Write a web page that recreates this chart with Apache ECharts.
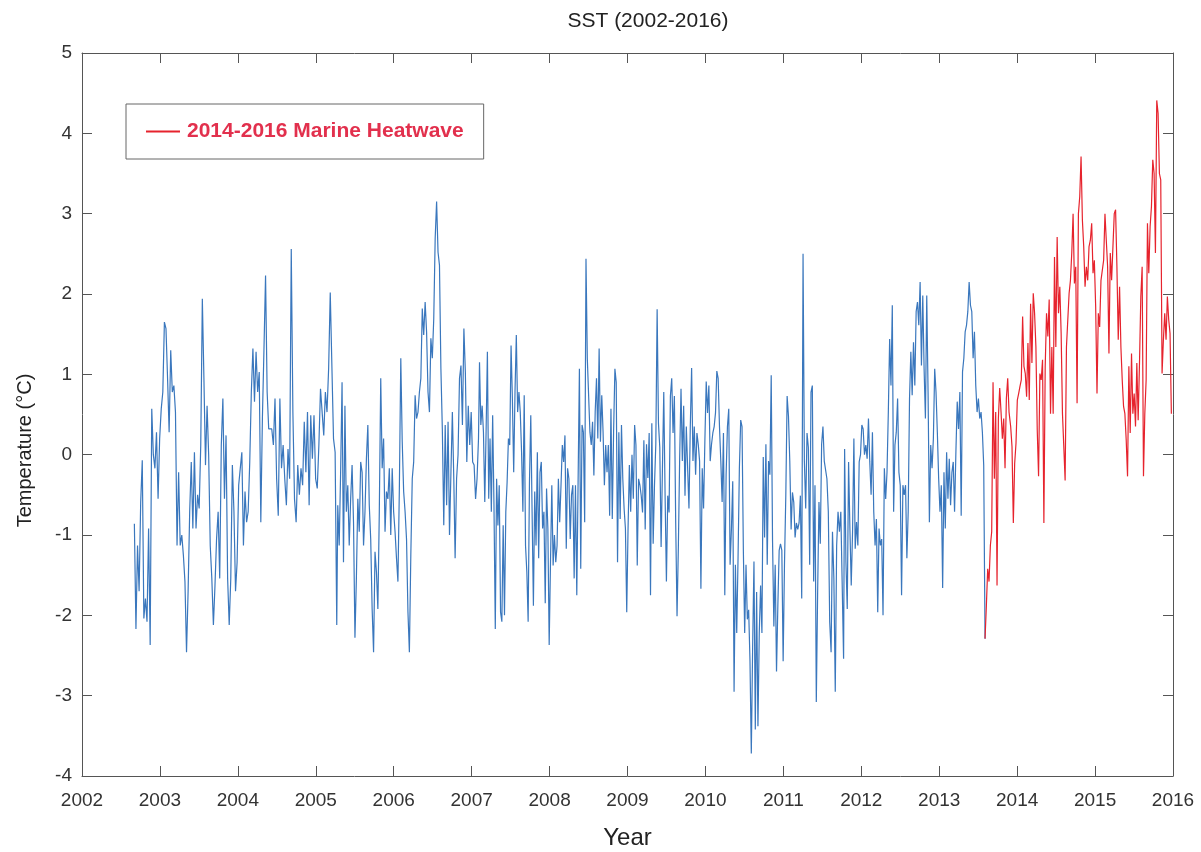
<!DOCTYPE html>
<html><head><meta charset="utf-8">
<script src="https://cdn.jsdelivr.net/npm/echarts@6/dist/echarts.min.js"></script>
<style>html,body{margin:0;padding:0;background:#fff}#c{width:1201px;height:852px}</style>
</head><body><div id="c"></div>
<script>
// Axis ticks
const yearTicks = [2002,2003,2004,2005,2006,2007,2008,2009,2010,2011,2012,2013,2014,2015,2016];
const tempTicks = [-4,-3,-2,-1,0,1,2,3,4,5];

// Sampled SST anomaly (°C), segments of evenly spaced samples between [startYear, endYear]
const blueSpanA = [2002.672, 2004.396];
const blueA = [-0.86,-2.17,-1.13,-1.7,-0.59,-0.07,-2.04,-1.79,-2.08,-0.92,-2.37,0.57,0,-0.17,0.28,-0.55,0.2,0.57,0.78,1.65,1.57,0.95,0.28,1.3,0.78,0.86,0.53,-1.13,-0.22,-1.13,-1.0,-1.25,-1.58,-2.46,-1.7,-0.71,-0.09,-0.92,0.03,-0.92,-0.5,-0.67,0.12,1.94,0.95,-0.13,0.61,0,-1.13,-1.54,-2.12,-1.63,-1.05,-0.71,-1.54,0.12,0.7,-0.55,0.24,-1.54,-2.12,-1.54,-0.13,-0.71,-1.7,-1.34,-0.38,-0.17,0.03,-1.13,-0.46,-0.84,-0.71,-0.09,0.78,1.32,0.66,1.28,0.78,1.03,-0.84,0.45,1.32,2.23,0.78,0.32];

const blueSpanB1 = [2004.435, 2005.269];
const blueB1 = [0.32,0.12,0.7,-0.3,-0.76,0.7,-0.17,0.12,-0.3,-0.63,0.07,-0.3,2.56,0.53,-0.55,-0.84,-0.13,-0.5,-0.17,-0.38,0.41,-0.22,0.53,-0.63,0.49,-0.05,0.49,-0.3,-0.42,0.12,0.82,0.53,0.24,0.78,0.53,1.07,2.02,1.11,0.2,0.03,-2.12];

const blueSpanB2 = [2005.282, 2006.771];
const blueB2 = [-0.63,-1.13,-0.22,0.9,-1.34,0.61,-0.71,-0.38,-1.13,-0.55,-0.13,-0.84,-2.28,-1.54,-0.55,-0.96,-0.09,-0.22,-1.13,-0.71,-0.05,0.37,-0.63,-1.05,-1.92,-2.46,-1.21,-1.46,-1.92,-0.71,0.95,-0.17,0.2,-0.96,-0.46,-0.55,-0.17,-1.0,-0.17,-0.71,-0.96,-1.29,-1.58,-0.42,1.2,0.16,-0.46,-0.71,-1.05,-1.96,-2.46,-1.25,-0.3,-0.09,0.74,0.45,0.53,0.78,0.95,1.82,1.49,1.9,1.53,0.78,0.53,1.45,1.2,1.69,2.69,3.15,2.52,2.36,1.07,0.32,-0.88,0.37,-0.63,0.41,-1.0,-0.22,0.53,-0.3];

const blueSpanC1 = [2006.788, 2007.088];
const blueC1 = [-1.29,-0.3,0,0.95,1.11,0.37,1.57,1.03,-0.09,0.61,0.12,0.53,-0.09,-0.13,-0.55,-0.3,0.2];

const blueSpanC2 = [2007.101, 2009.142];
const blueC2 = [1.15,0.37,0.61,0.28,-0.59,0.28,1.28,-0.55,0.2,-0.71,0.49,-0.63,-2.17,-0.3,-0.88,-0.38,-1.96,-2.08,-0.88,-2.0,-0.71,-0.34,0.2,0.12,1.36,0.7,-0.22,0.78,1.49,0.53,0.78,0.53,0.03,-0.71,0.74,-1.13,-1.46,-2.08,-0.34,0.49,-0.71,-1.88,-0.46,-1.13,0.03,-1.29,-0.22,-0.09,-0.92,-0.71,-1.85,-0.42,-0.92,-2.37,-1.34,-0.38,-1.38,-1.0,-1.34,-1.13,-0.3,-0.84,-0.38,0.12,-0.09,0.24,-1.17,-0.17,-0.3,-1.05,-0.5,-0.38,-1.54,-0.38,-1.75,-0.34,1.07,-1.42,0.37,0.28,-0.84,2.44,1.2,1.2,0.28,0.12,0.41,-0.26,0.53,0.95,0.2,1.32,0.16,0.74,0.28,-0.38,0.12,-0.22,0.12,-0.76,0.57,-0.8,0.28,1.07,0.9,-1.34,0.28,-0.8,0.37,-0.3,-0.67,-0.92,-1.96,-0.92,-0.13,-0.71,0,-0.55,0.37,0.12,-1.38,-0.3];

const blueSpanD = [2009.159, 2011.525];
const blueD = [-0.38,-0.51,-0.72,0.18,-0.93,0.13,-0.29,0.27,-1.75,0.39,-1.11,-0.38,0.13,1.81,0.39,0.09,-1.15,-0.17,0.78,-0.51,-1.58,-0.51,-0.72,0.73,0.95,0.27,0.73,-0.85,-2.01,-1.15,-0.03,0.82,-0.08,0.61,-0.51,0.35,-0.17,-0.67,0.35,1.08,-0.08,0.35,-0.25,0.27,0.13,-0.08,-1.67,-0.17,-0.67,0.18,0.91,0.52,0.86,-0.08,0.13,0.27,0.35,0.52,1.04,0.95,0.35,-0.08,-0.59,0.27,-1.75,-0.25,0.35,0.57,-1.37,-0.93,-0.33,-2.95,-1.37,-2.22,-1.28,-0.17,0.43,0.35,-1.19,-2.22,-1.37,-2.05,-1.93,-2.57,-3.72,-2.39,-1.33,-3.42,-1.71,-3.38,-2.22,-1.63,-2.22,-0.03,-1.03,0.13,-1.37,-0.08,-0.25,0.99,-1.07,-2.14,-1.37,-2.7,-1.88,-1.19,-1.11,-1.19,-2.57,-1.37,-0.51,0.73,0.48,-0.08,-0.93,-0.47,-0.59,-1.03,-0.85,-0.93,-0.85,-0.51,-1.79,2.5,-0.08,-0.67,0.27,0.09,-1.37,0.78,0.86,-1.58,-0.38,-3.08,-1.71,-0.59,-1.11,0.13,0.35,-0.08];

const blueSpanE1 = [2011.559, 2011.773];
const blueE1 = [-0.3,-0.71,-2.08,-2.46,-0.96,-1.54,-2.95,-1.13,-0.71,-0.96,-0.71,-0.71,-2.54];

const blueSpanE2 = [2011.786, 2013.588];
const blueE2 = [0.07,-1.34,-1.92,-0.09,-0.92,-1.63,-0.96,0.2,-1.17,-0.84,-1.13,-0.09,0,0.37,0.32,0,0.12,-0.05,0.45,-0.09,-0.5,0.28,-0.71,-1.13,-0.8,-1.96,-0.92,-1.13,-1.05,-2.0,-0.17,-0.55,-0.22,0.53,1.44,0.86,1.86,-0.71,0.12,0.28,0.7,-0.22,-0.38,-1.75,-0.38,-0.5,-0.38,-1.29,-0.71,0.7,1.28,0.74,1.4,0.86,1.78,1.9,1.61,2.15,1.11,1.98,1.07,0.45,1.98,0.78,-0.84,0.12,-0.17,0.2,1.07,0.78,0.28,-0.3,-0.71,-0.38,-1.66,-0.22,-0.92,0.03,-0.55,-0.05,-0.63,-0.22,-0.09,-0.71,0.03,0.66,0.32,0.78,-0.76,1.03,1.2,1.53,1.61,1.78,2.15,1.86,1.78,1.2,1.53,0.86,0.53,0.7,0.45,0.53,0.28,-0.13,-2.29];

// 2014-2016 marine heatwave period
const redSpanF = [2013.588, 2013.896];
const redF = [-2.29,-1.88,-1.42,-1.58,-1.13,-0.96,0.9,-0.3,0.53,-1.63,0.45,0.83,0.53,0.2,0.45,-0.17,0.7,0.95,0.53];

const redSpanG = [2013.917, 2015.979];
const redG = [0.35,0.1,-0.85,-0.11,0.14,0.68,0.76,0.85,0.93,1.72,1.1,1.01,0.72,1.39,0.68,1.88,1.14,2.01,1.76,1.34,0.31,-0.27,1.01,0.93,1.18,-0.85,1.1,1.76,1.47,1.93,0.51,1.34,0.51,2.46,1.34,2.71,1.76,2.09,1.51,0.51,0.1,-0.32,1.34,1.34,2.01,2.17,2.51,3.0,2.13,2.34,0.64,3.0,3.21,3.71,2.92,2.59,2.09,2.34,2.17,2.59,2.67,2.88,2.26,2.42,1.84,0.76,1.76,1.59,2.17,2.17,2.42,3.0,2.67,2.34,1.26,2.51,2.17,2.59,3.0,3.05,2.34,1.43,2.09,1.34,0.93,0.6,0.51,0.18,-0.27,1.1,0.27,1.26,0.51,0.76,0.35,1.14,0.43,1.14,1.97,2.34,-0.27,0.51,0.93,2.88,2.26,2.84,3.09,3.67,3.5,2.51,4.41,4.25,3.5,3.42,1.01,1.43,1.76,1.43,1.97,1.68,1.51,0.51];

function spread(span, vals) {
  const step = (span[1] - span[0]) / (vals.length - 1);
  return vals.map((v, i) => [span[0] + i * step, v]);
}
const blueData = [].concat(
  spread(blueSpanA, blueA), spread(blueSpanB1, blueB1), spread(blueSpanB2, blueB2),
  spread(blueSpanC1, blueC1), spread(blueSpanC2, blueC2), spread(blueSpanD, blueD),
  spread(blueSpanE1, blueE1), spread(blueSpanE2, blueE2));
const redData = [].concat(spread(redSpanF, redF), spread(redSpanG, redG));

const FONT = '"Liberation Sans", Arial, Helvetica, sans-serif';
const AX = '#555555';
const LBL = '#333333';
const xMin = yearTicks[0], xMax = yearTicks[yearTicks.length - 1];
const yMin = tempTicks[0], yMax = tempTicks[tempTicks.length - 1];

function frameAxis(pos, min, max) {
  return {
    type: 'value', position: pos, min: min, max: max, interval: 1,
    axisLine: { show: true, onZero: false, lineStyle: { color: AX, width: 1 } },
    axisTick: { show: true, inside: true, length: 10, lineStyle: { color: AX, width: 1 } },
    axisLabel: { show: false },
    splitLine: { show: false }
  };
}

const chart = echarts.init(document.getElementById('c'), null, { renderer: 'canvas' });
chart.setOption({
  animation: false,
  backgroundColor: '#ffffff',
  title: {
    text: 'SST (2002-2016)', left: 643, top: 6, textAlign: 'center',
    textStyle: { fontFamily: FONT, fontSize: 21, fontWeight: 'normal', color: '#222' }
  },
  grid: { left: 82, right: 28, top: 53, bottom: 76, containLabel: false, outerBoundsMode: 'none' },
  legend: {
    data: [{ name: '2014-2016 Marine Heatwave', icon: 'rect' }],
    left: 126, top: 104,
    padding: [17, 20, 17, 20],
    itemWidth: 34, itemHeight: 2, itemGap: 10,
    borderColor: '#666', borderWidth: 1, backgroundColor: '#fff',
    textStyle: { fontFamily: FONT, fontSize: 21, fontWeight: 'bold', color: '#e2304d', lineHeight: 20, padding: [0,0,0,2] }
  },
  xAxis: [
    {
      type: 'value', position: 'bottom', min: xMin, max: xMax, interval: 1,
      name: 'Year', nameLocation: 'middle', nameGap: 50,
      nameTextStyle: { fontFamily: FONT, fontSize: 24, color: '#222' },
      axisLine: { show: true, onZero: false, lineStyle: { color: AX, width: 1 } },
      axisTick: { show: true, inside: true, length: 10, lineStyle: { color: AX, width: 1 } },
      axisLabel: { fontFamily: FONT, fontSize: 19, color: LBL, margin: 15, formatter: v => String(v) },
      splitLine: { show: false }
    },
    frameAxis('top', xMin, xMax)
  ],
  yAxis: [
    {
      type: 'value', position: 'left', min: yMin, max: yMax, interval: 1,
      name: 'Temperature (°C)', nameLocation: 'middle', nameGap: 47,
      nameTextStyle: { fontFamily: FONT, fontSize: 20, color: '#222', padding: [0, 72, 0, 0] },
      axisLine: { show: true, onZero: false, lineStyle: { color: AX, width: 1 } },
      axisTick: { show: true, inside: true, length: 10, lineStyle: { color: AX, width: 1 } },
      axisLabel: { fontFamily: FONT, fontSize: 19, color: LBL, margin: 10, formatter: v => String(v) },
      splitLine: { show: false }
    },
    frameAxis('right', yMin, yMax)
  ],
  series: [
    {
      name: 'SST', type: 'line', xAxisIndex: 0, yAxisIndex: 0,
      data: blueData, showSymbol: false, symbol: 'none',
      lineStyle: { color: '#3a77bd', width: 1.2 }, itemStyle: { color: '#3a77bd' }
    },
    {
      name: '2014-2016 Marine Heatwave', type: 'line', xAxisIndex: 0, yAxisIndex: 0,
      data: redData, showSymbol: false, symbol: 'none',
      lineStyle: { color: '#e6232d', width: 1.2 }, itemStyle: { color: '#e6232d' }
    }
  ]
});
</script>
</body></html>
